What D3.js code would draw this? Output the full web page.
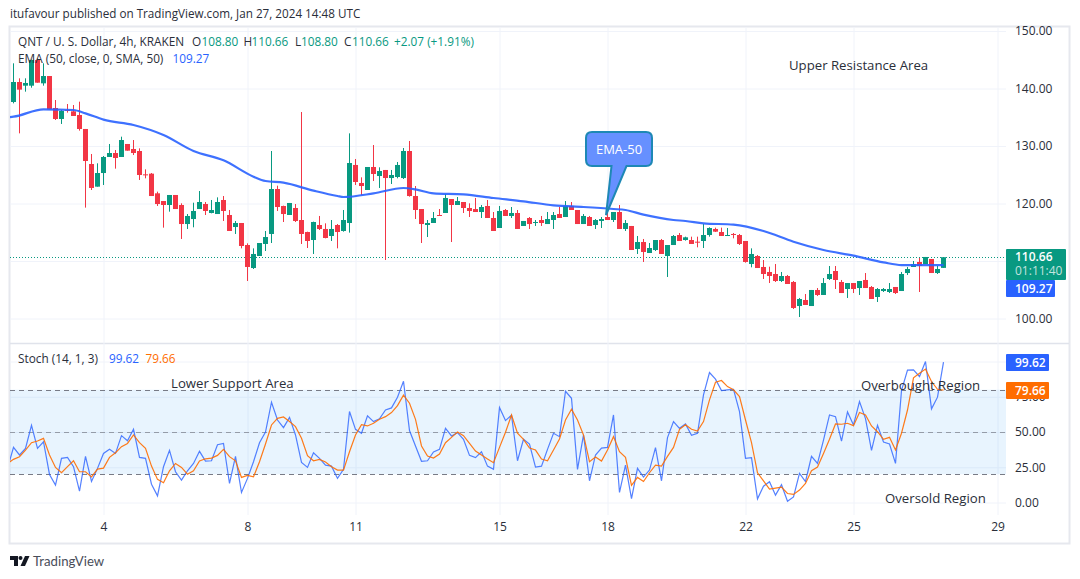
<!DOCTYPE html>
<html>
<head>
<meta charset="utf-8">
<script src="https://cdn.jsdelivr.net/npm/d3@7"></script>
<style>
  body { margin: 0; background: #fff; }
  text { font-family: "Open Sans", sans-serif; fill: #2a2e39; }
  .grid line { stroke: #f0f3fa; }
  .grid path { display: none; }
</style>
</head>
<body>
<div id="chart"></div>
<script>
// 4h candles
var opens = [137.65,141.13,140.49,140.49,144.96,140.9,142.17,136.61,134.7,136.26,136.03,135.39,132.96,126.87,122.93,125.3,128.09,128.78,128.09,130.35,129.48,129.13,125.07,125.19,121.77,120.43,119.74,121.48,119.74,116.43,117.3,119.04,119.91,118.35,118.17,120.61,118,115.91,116.61,112.78,108.78,110.87,112.96,114.7,122.52,119.57,118,119.22,117.13,115.04,113.65,116.26,115.57,114.35,116.26,
  115.22,116.61,126.7,123.57,122.35,126.35,124.78,125.83,124.43,124.61,124.43,129.13,121.3,119.04,116.26,116.61,118,118.35,120.78,119.74,120.26,119.22,119.04,118.52,119.57,117.48,115.74,118.87,117.83,118.35,116.09,117.48,116.67,117.13,116.43,117.13,118.17,117.65,119.57,118.87,116.43,117.65,116.26,116.96,117.65,117.13,118.52,115.57,116.09,112.09,113.3,111.39,111.91,113.65,110.87,112.78,114.52,
  113.65,113.65,113.36,113.48,114.52,115.57,115.04,114.41,114.7,114.52,113.48,109.48,110.87,108.96,108.09,107.74,106.52,107.39,106.35,102.17,103.22,102.17,104.96,104.09,106.87,108.26,106.35,105.13,106.17,105.3,106.7,105.48,103.74,104.78,104.61,105.48,104.78,107.91,108.96,109.83,109.48,110.35,107.91,108.8];
var highs = [144.38,141.77,141.77,145.07,145.25,144.38,142.17,138,136.26,137.3,137.13,137.71,132.96,128.61,126.99,128.26,130.35,129.3,131.62,130.35,131.04,129.59,125.94,125.3,122.06,120.43,121.48,121.48,120.03,118.17,120.14,122.17,120.26,120.61,121.07,121.3,118.87,116.96,116.61,113.07,112.2,113.13,115.22,129.13,123.1,119.62,120.09,119.91,135.91,115.1,116.84,117.83,116.55,117.13,116.43,
  118.87,132.2,127.74,124.55,126.35,130.17,126.29,125.83,125.83,127.22,129.65,130.87,123.04,119.04,117.13,118.52,119.04,121.65,120.78,121.13,120.26,120.03,120.96,119.74,120.61,118.52,119.57,119.04,119.39,118.87,116.96,117.65,117.13,117.83,118.52,118.52,119.39,120.43,120.26,118.87,118.17,117.83,117.3,117.65,118.52,118.52,119.74,117.13,116.09,114.35,113.83,113.13,113.65,113.83,112.78,114.52,114.87,
  114.23,114.23,114.23,116.43,115.86,115.8,115.8,115.74,114.87,114.7,113.48,112.2,111.04,110.17,109.01,109.48,108.09,107.57,106.52,103.57,104.26,104.96,105.3,107.04,109.13,109.13,106.7,106.17,106.17,106.52,107.91,105.65,105.3,105.3,106.17,105.48,108.09,108.96,110,110.52,110.7,110.35,109.13,110.66];
var lows = [137.42,132.2,139.45,140.14,141.01,140.49,136.38,134.52,133.83,135.8,135.22,132.67,119.28,122.35,122.93,123.22,128.09,126.06,128.09,129.19,128.43,124.09,124.38,121.3,119.57,115.8,118.58,119.04,113.83,115.57,115.86,119.04,118,118.29,118.17,116.96,115.22,114.7,112.2,106.52,108.61,110.87,111.74,113.13,118.7,116.78,118,116.78,112.96,112.26,111.22,115.39,113.94,113.48,112.2,
  115.1,114.93,123.22,121.48,122.35,123.91,122.7,110.17,123.39,124.38,124.26,121.19,117.3,113.13,114.17,116.61,117.83,118.35,113.3,119.74,118.35,117.65,118.52,117.48,117.48,115.22,115.74,117.83,117.48,115.57,116.09,115.57,116.09,116.09,116.43,115.57,117.48,117.65,118.87,116.43,116.43,116.09,115.57,115.74,117.13,116.78,115.57,115.22,111.91,111.22,109.83,111.39,111.74,111.22,107.22,112.78,113.48,
  113.54,112.96,112.38,112.26,114.23,115.04,114.35,114.41,113.94,112.78,109.71,108.9,108.78,106.87,106.17,106.35,106.35,106,101.65,100.26,102.35,102.17,103.91,104.09,106.7,105.13,104.43,103.57,104.43,104.09,105.3,103.39,102.87,104.61,104.43,104.26,104.78,107.57,108.96,104.61,109.48,107.91,107.74,108.8];
var closes = [141.13,139.8,140.96,144.96,141.01,142.17,136.38,134.7,136.09,136.14,135.22,132.96,127.39,122.7,125.3,128.09,128.78,127.91,131.04,129.19,128.78,124.96,124.96,121.3,119.91,119.74,121.48,119.04,116.43,117.83,118.7,120.26,118.7,118.87,120.26,118.7,115.22,116.61,112.61,108.96,111.22,113.13,114.17,122.52,119.39,118.17,120.09,116.96,114.7,113.48,116.78,115.57,114,115.57,115.04,
  117.13,127.04,123.74,123.04,126.35,125.13,125.65,124.43,124.96,126.7,129.13,121.3,118.87,116.43,116.61,117.48,117.83,120.96,119.74,120.43,119.22,118.7,118.52,119.39,117.48,115.22,118.7,117.83,118.35,115.57,116.96,116.43,116.78,116.61,117.3,118,117.48,119.57,118.87,116.43,117.83,116.09,117.13,117.3,117.13,118.52,115.57,116.61,111.91,113.3,111.57,112.26,113.65,111.22,112.78,114.35,113.48,
  114.12,112.96,113.25,114.52,115.74,115.1,114.35,114.52,114.58,112.96,109.83,111.22,108.78,107.74,107.39,106.52,107.39,106,101.83,103.39,102.35,104.96,104.09,106.17,107.74,106.7,104.43,106.17,105.13,106.52,105.3,103.39,105.13,105.13,105.13,104.43,107.74,108.61,109.48,109.13,110.7,107.91,108.61,110.66];

// EMA 50 readings, bar number and value (first one runs off the left edge)
var emaBars = [-1,0,5,10,12,15,20,25,30,35,40,42,45,50,54,55,60,65,67,70,75,80,85,90,95,100,102,105,110,112,115,120,125,130,135,140,145,148,151,155];
var emaValues = [135,135.1,136.38,136.26,135.68,134.58,133.65,131.91,129.13,127.51,124.67,123.91,123.62,122.23,121.3,121.13,121.77,122.7,122.46,121.77,121.59,120.96,120.38,119.68,119.39,119.04,118.87,118.06,117.13,116.96,116.55,116.32,115.22,113.36,111.91,110.93,109.77,109.3,109.3,109.27];

// Stochastic %K and %D, starting one bar before the first candle
var stochK = [24.2,39.1,33.7,38.4,54.7,38.4,43.1,19.9,12.3,31.3,32,25.4,8.1,32.7,14.9,24.2,34.8,37.7,34.8,47.4,43.8,51.9,32,31.3,13,4.7,25.4,37,21.8,15.9,22.5,27.7,36.3,29.4,29.6,41,41.9,13.5,32.7,7.1,17.1,28.9,42.4,50,71.1,58.5,53.1,60.4,47.9,28.4,24.9,35.3,31.3,26.5,25.8,17.1,
  23.5,64.5,51.9,49.1,61.4,57.4,59.3,65.6,67.1,74.7,86,51,40.1,29.2,29.6,35.8,37.7,52.6,47.2,49.5,44.8,33.4,31.8,36,25.8,23.5,67.3,58.1,61.9,29.6,44.8,41.5,25.1,25.8,37.7,49.1,46.7,78.9,73.9,23.5,47.9,15.4,33.7,38.6,39.1,62.1,7.1,26.5,2.8,24.2,18,23,38.9,15.4,46,57.4,52.6,
  55.7,47.6,49.1,76.3,92.2,87.5,79.4,79.9,80.3,64.5,31.3,31.8,2.6,11.6,14.7,5.2,12.6,0.9,4,20.6,14.9,32.7,27.7,44.3,62.1,60.9,43.6,64.2,55,71.6,59.5,37,54.7,42.9,41.5,27.7,79.4,93.9,94.1,89.3,100,66.4,74.7,99.62];
var stochD = [27.7,30.6,32.5,37.2,42.4,43.6,45.5,33.7,24.9,21.1,25.4,29.6,21.8,21.8,18.2,23.7,24.4,32,35.3,39.6,41.9,47.9,42.4,38.4,25.8,16.4,14,22.5,27.7,24.9,20.1,22.5,29.4,31,31.5,33.4,37.7,32.5,29.6,17.8,19.2,18.2,28.9,41.5,55,59.7,60.7,57.4,53.8,45.5,33.2,29.6,30.6,28.7,25.4,23,
  23,36,47.9,55.2,54.3,56.2,59,60.9,63.8,68.7,76.1,70.4,59,40.1,32.9,31.5,34.4,42.4,46.2,50,47.4,41.9,36.5,33.7,30.8,28.2,39.1,49.8,62.1,49.1,44.8,38.6,37.2,30.8,29.6,37.2,45,58.5,66.1,58.5,47.9,28.9,32.2,29.4,37.2,46.7,36,32,12.1,17.8,14.9,21.1,26.5,25.8,32.7,39.1,51.9,
  55.2,51.9,50.7,57.4,72.8,85.3,86.5,82.2,79.9,75.1,58.5,42.4,21.1,15.4,9.5,10.2,10.9,6.4,5.7,8.8,13.5,22.5,25.1,34.8,44.8,55.7,55.5,56.2,54.5,63.8,62.1,54.3,50.2,44.8,46.2,37.2,49.1,65.6,88.4,91.7,94.6,85.8,80.3,79.66];

// axis ticks
var dayBars = [15,39,57,81,99,122,140,164];
var dayLabels = ["4","8","11","15","18","22","25","29"];
var priceTicks = [100,110,120,130,140,150];
var stochTicks = [0,25,50,75];
var stochGrid = [0,25,50,75,100];

var lastClose = 110.66, lastEma = 109.27, lastK = 99.62, lastD = 79.66;

var svgWidth = 1080, svgHeight = 579;
var green = "#089981", red = "#f23645", blue = "#2962ff", orange = "#ff6d00";

var svg = d3.select("#chart").append("svg")
  .attr("width", svgWidth).attr("height", svgHeight)
  .style("display", "block");

var x = d3.scaleLinear().domain([0, 155]).range([13.5, 943.5]);
var yPrice = d3.scaleLinear().domain([100, 150]).range([318.5, 31]);
var yStoch = d3.scaleLinear().domain([0, 100]).range([502.5, 361.5]);

var left = 10, right = 1006;

svg.append("clipPath").attr("id", "pane").append("rect")
  .attr("x", left).attr("y", 27).attr("width", right - left).attr("height", 488);

// frame
svg.append("rect").attr("x", 9.5).attr("y", 26.5).attr("width", 1060).attr("height", 517)
  .attr("fill", "none").attr("stroke", "#e6e8ee").attr("stroke-width", 2);
svg.append("line").attr("x1", 10).attr("x2", 1069).attr("y1", 343.5).attr("y2", 343.5)
  .attr("stroke", "#e0e3eb").attr("stroke-width", 1.5);

// grid lines
svg.append("g").attr("class", "grid")
  .attr("transform", "translate(0,515)")
  .call(d3.axisBottom(x).tickValues(dayBars).tickSize(-488).tickFormat(""));
svg.append("g").attr("class", "grid")
  .attr("transform", "translate(" + left + ",0)")
  .call(d3.axisRight(yPrice).tickValues(priceTicks).tickSize(right - left).tickFormat(""));
svg.append("g").attr("class", "grid")
  .attr("transform", "translate(" + left + ",0)")
  .call(d3.axisRight(yStoch).tickValues(stochGrid).tickSize(right - left).tickFormat(""));

// stoch band
svg.append("rect").attr("x", left).attr("width", right - left)
  .attr("y", yStoch(80)).attr("height", yStoch(20) - yStoch(80))
  .attr("fill", "#2196f3").attr("fill-opacity", 0.1);
[80, 50, 20].forEach(function(level) {
  svg.append("line").attr("x1", left).attr("x2", right)
    .attr("y1", Math.round(yStoch(level)) + 0.5).attr("y2", Math.round(yStoch(level)) + 0.5)
    .attr("stroke", "#787b86").attr("stroke-opacity", level == 50 ? 0.7 : 1)
    .attr("stroke-dasharray", "5,4");
});

// last price dotted line
svg.append("line").attr("x1", left).attr("x2", right)
  .attr("y1", Math.round(yPrice(lastClose)) + 0.5).attr("y2", Math.round(yPrice(lastClose)) + 0.5)
  .attr("stroke", green).attr("stroke-dasharray", "1,2");

// candles
var candles = svg.append("g").selectAll("g").data(opens).enter().append("g")
  .attr("transform", (d, i) => "translate(" + x(i) + ",0)");
candles.append("line")
  .attr("y1", (d, i) => yPrice(highs[i])).attr("y2", (d, i) => yPrice(lows[i]))
  .attr("stroke", (d, i) => closes[i] >= opens[i] ? green : red);
candles.append("rect")
  .attr("x", -2.5).attr("width", 5)
  .attr("y", (d, i) => yPrice(Math.max(opens[i], closes[i])))
  .attr("height", (d, i) => Math.max(1, Math.abs(yPrice(opens[i]) - yPrice(closes[i]))))
  .attr("fill", (d, i) => closes[i] >= opens[i] ? green : red);

// ema
var emaLine = d3.line().x((d, i) => x(emaBars[i])).y(d => yPrice(d)).curve(d3.curveMonotoneX);
svg.append("path").attr("d", emaLine(emaValues)).attr("clip-path", "url(#pane)")
  .attr("fill", "none").attr("stroke", blue).attr("stroke-opacity", 0.9).attr("stroke-width", 2.2);

// stochastic lines
var stochLine = d3.line().x((d, i) => x(i - 1)).y(d => yStoch(d));
svg.append("path").attr("d", stochLine(stochK)).attr("clip-path", "url(#pane)")
  .attr("fill", "none").attr("stroke", blue).attr("stroke-opacity", 0.8).attr("stroke-width", 1.2);
svg.append("path").attr("d", stochLine(stochD)).attr("clip-path", "url(#pane)")
  .attr("fill", "none").attr("stroke", orange).attr("stroke-opacity", 0.9).attr("stroke-width", 1.2);

// axes with labels
var priceAxis = svg.append("g").attr("transform", "translate(1015,0)")
  .call(d3.axisRight(yPrice).tickValues(priceTicks).tickSize(0).tickPadding(0).tickFormat(d3.format(".2f")));
var stochAxis = svg.append("g").attr("transform", "translate(1015,0)")
  .call(d3.axisRight(yStoch).tickValues(stochTicks).tickSize(0).tickPadding(0).tickFormat(d3.format(".2f")));
var timeAxis = svg.append("g").attr("transform", "translate(0,522)")
  .call(d3.axisBottom(x).tickValues(dayBars).tickSize(0).tickPadding(0).tickFormat((d, i) => dayLabels[i]));
[priceAxis, stochAxis, timeAxis].forEach(function(a) {
  a.select(".domain").remove();
  a.selectAll("text").style("font-family", '"Open Sans", sans-serif').style("font-size", "12px");
});

// value tags on the price scale
function tag(y0, y1, w, color, lines) {
  svg.append("rect").attr("x", 1006).attr("y", y0).attr("width", w).attr("height", y1 - y0)
    .attr("rx", 1).attr("fill", color);
  lines.forEach(function(l) {
    svg.append("text").attr("x", 1015).attr("y", l.y).text(l.t)
      .style("fill", "#fff").style("fill-opacity", l.o || 1)
      .style("font-size", "12px").style("font-weight", l.o ? 400 : 600);
  });
}
tag(249, 280, 60, green, [{ t: d3.format(".2f")(lastClose), y: 261 }, { t: "01:11:40", y: 275, o: 0.75 }]);
tag(280, 297, 49, blue, [{ t: d3.format(".2f")(lastEma), y: 293 }]);
tag(354, 371, 43, blue, [{ t: d3.format(".2f")(lastK), y: 367 }]);
tag(382, 399, 43, orange, [{ t: d3.format(".2f")(lastD), y: 395 }]);

// legends
var legend = svg.append("text").attr("y", 46).style("font-size", "11.8px");
legend.append("tspan").attr("x", 18).text("QNT / U. S. Dollar, 4h, KRAKEN");
[["O", "108.80", 192, 201.5], ["H", "110.66", 243.5, 251.5], ["L", "108.80", 295, 301], ["C", "110.66", 344, 352]].forEach(function(p) {
  legend.append("tspan").attr("x", p[2]).text(p[0]);
  legend.append("tspan").attr("x", p[3]).text(p[1]).style("fill", green);
});
legend.append("tspan").attr("x", 394).text("+2.07 (+1.91%)").style("fill", green);

var emaLegend = svg.append("text").attr("y", 63).style("font-size", "11.8px");
emaLegend.append("tspan").attr("x", 18).text("EMA (50, close, 0, SMA, 50)");
emaLegend.append("tspan").attr("x", 172.5).text("109.27").style("fill", blue);

var stochLegend = svg.append("text").attr("y", 363).style("font-size", "11.8px");
stochLegend.append("tspan").attr("x", 18).text("Stoch (14, 1, 3)");
stochLegend.append("tspan").attr("x", 109).text("99.62").style("fill", blue);
stochLegend.append("tspan").attr("x", 145.5).text("79.66").style("fill", orange);

svg.append("text").attr("x", 10).attr("y", 18).style("font-size", "11.7px")
  .text("itufavour published on TradingView.com, Jan 27, 2024 14:48 UTC");

// drawn annotations
[["Upper Resistance Area", 789, 70], ["Lower Support Area", 171, 388], ["Overbought Region", 861, 390], ["Oversold Region", 885, 503]]
  .forEach(function(a) {
    svg.append("text").attr("x", a[1]).attr("y", a[2]).style("font-size", "13.2px").text(a[0]);
  });

// EMA-50 callout
svg.append("path")
  .attr("d", "M592,132 H646 Q652,132 652,138 V160 Q652,166 646,166 H626.5 L606,215 L611.5,166 H592 Q586,166 586,160 V138 Q586,132 592,132 Z")
  .attr("fill", "#6690ff").attr("stroke", "#1e88b5").attr("stroke-width", 2);
svg.append("text").attr("x", 619).attr("y", 153.5).attr("text-anchor", "middle")
  .style("fill", "#fff").style("font-size", "13px").text("EMA-50");

// logo
var logo = svg.append("g").attr("fill", "#131722");
logo.append("path").attr("d", "M10,556 H18 V566 H14 V560 H10 Z");
logo.append("circle").attr("cx", 20.5).attr("cy", 558).attr("r", 2);
logo.append("path").attr("d", "M25,556 H29.5 L25,566 H20.5 Z");
svg.append("text").attr("x", 33).attr("y", 566).style("font-family", "Lato, sans-serif").style("font-size", "13.2px").style("fill", "#4a4e5a").text("TradingView");
</script>
</body>
</html>
